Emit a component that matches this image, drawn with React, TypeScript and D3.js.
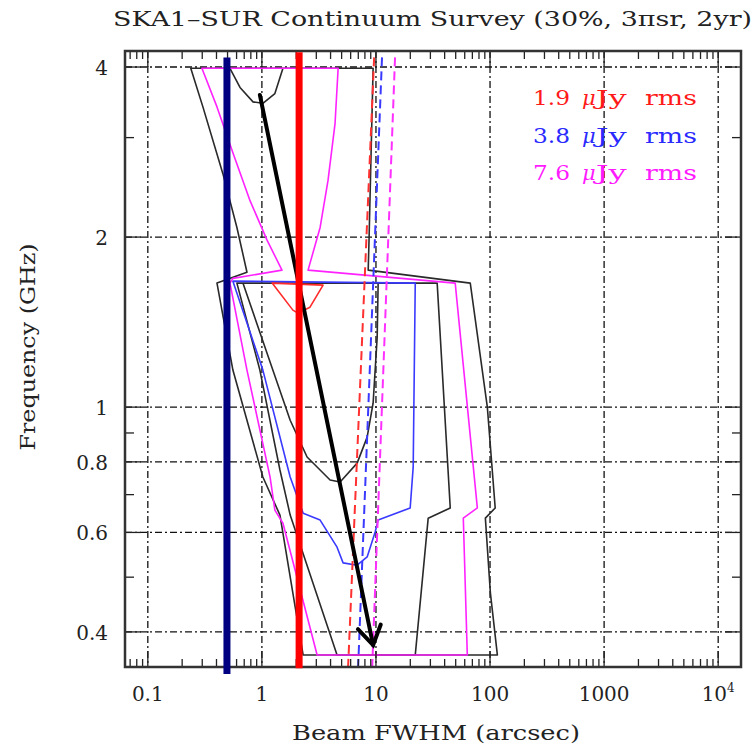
import React from "react";
import * as d3 from "d3";

const W = 756;
const H = 748;
const plot = { left: 125, right: 741, top: 51, bottom: 667 };

const beamDomain: [number, number] = [0.0631, 15849];
const freqDomain: [number, number] = [0.3467, 4.27];

const xTicks = [0.1, 1, 10, 100, 1000, 10000];
const xTickLabels = ["0.1", "1", "10", "100", "1000", "10"];
const yTicks = [0.4, 0.6, 0.8, 1, 2, 4];
const yTickLabels = ["0.4", "0.6", "0.8", "1", "2", "4"];
const yMinorTicks = [0.5, 0.7, 0.9, 3];

// Survey contours as [beam FWHM (arcsec), frequency (GHz)]
const blackOuter: [number, number][] = [
  [0.238, 3.98], [9.44, 3.98], [8.71, 2.0], [8.55, 1.748], [67.1, 1.658], [94.7, 1.0],
  [111, 0.663], [91.0, 0.636], [100.7, 0.469], [116, 0.364], [2.3, 0.364], [1.44, 0.644],
  [1.02, 0.752], [0.557, 1.163], [0.404, 1.658], [0.74, 1.733], [0.604, 2.08],
  [0.455, 2.59], [0.304, 3.4],
];
const magentaOuter: [number, number][] = [
  [0.298, 3.98], [4.66, 3.98], [4.38, 3.18], [3.8, 2.52], [3.24, 2.08], [2.54, 1.748],
  [49.5, 1.658], [77.4, 0.663], [58.3, 0.636], [63.2, 0.364], [3.05, 0.364], [1.53, 0.623],
  [1.3, 0.657], [1.18, 0.752], [0.74, 1.163], [0.525, 1.658], [0.557, 1.69], [1.5, 1.748],
  [1.11, 1.975], [0.787, 2.32], [0.557, 2.82], [0.404, 3.4],
];
const blackMid: [number, number][] = [
  [0.604, 1.658], [34.4, 1.658], [44.8, 0.663], [28.7, 0.636], [22.1, 0.364], [4.56, 0.364],
  [1.77, 0.644], [1.44, 0.774], [0.96, 1.163],
];
const blackInner: [number, number][] = [
  [0.682, 1.658], [1.11, 1.246], [1.77, 0.948], [2.49, 0.816], [3.96, 0.743], [4.85, 0.737],
  [6.84, 0.796], [8.37, 0.885], [9.44, 1.016], [10.25, 1.33], [10.45, 1.658],
];
const blackCap: [number, number][] = [
  [0.525, 3.98], [0.643, 3.68], [0.836, 3.47], [1.02, 3.45], [1.3, 3.59], [1.53, 3.98],
];
const blueContour: [number, number][] = [
  [0.557, 1.671], [22.1, 1.658], [21.2, 0.783], [19.95, 0.663], [10.45, 0.631], [9.84, 0.601],
  [8.37, 0.543], [6.84, 0.525], [5.15, 0.53], [4.56, 0.565], [3.24, 0.631], [2.3, 0.649],
  [1.77, 0.752], [1.02, 1.163],
];
const redContour: [number, number][] = [
  [1.23, 1.658], [1.87, 1.485], [2.07, 1.467], [2.64, 1.503], [3.44, 1.644],
];

// Confusion limits for each rms level
const confusionRed: [number, number][] = [[9.64, 4.16], [5.7, 0.347]];
const confusionBlue: [number, number][] = [[11.3, 4.16], [6.98, 0.347]];
const confusionMagenta: [number, number][] = [[14.7, 4.16], [9.27, 0.347]];

// Reference beams and resolution track
const navyBeam = 0.494;
const navyRange: [number, number] = [0.337, 4.16];
const redBeam = 2.12;
const redRange: [number, number] = [0.345, 4.25];
const arrowFrom: [number, number] = [0.96, 3.57];
const arrowTo: [number, number] = [9.44, 0.379];

const legendLevels = ["1.9", "3.8", "7.6"];
const legendColors = ["#ff1a1a", "#2a2aff", "#ff1aff"];

const serif = "'DejaVu Serif', 'Liberation Serif', serif";

export default function App() {
  const x = d3.scaleLog().domain(beamDomain).range([plot.left, plot.right]);
  const y = d3.scaleLog().domain(freqDomain).range([plot.bottom, plot.top]);

  const closed = d3
    .line<[number, number]>()
    .x((d) => x(d[0]))
    .y((d) => y(d[1]))
    .curve(d3.curveLinearClosed);
  const open = d3
    .line<[number, number]>()
    .x((d) => x(d[0]))
    .y((d) => y(d[1]));

  // minor x ticks: 2..9 times each decade within domain
  const xMinor: number[] = [];
  for (let e = -2; e <= 4; e++) {
    for (let m = 2; m <= 9; m++) {
      const v = m * Math.pow(10, e);
      if (v > beamDomain[0] && v < beamDomain[1]) xMinor.push(v);
    }
  }

  const grid = "7 3 2 3";
  const contourW = 1.6;

  // arrowhead
  const tx = x(arrowTo[0]);
  const ty = y(arrowTo[1]);
  const fx = x(arrowFrom[0]);
  const fy = y(arrowFrom[1]);
  const ang = Math.atan2(ty - fy, tx - fx);
  const headLen = 22;
  const headAng = (32 * Math.PI) / 180;
  const h1 = [tx - headLen * Math.cos(ang - headAng), ty - headLen * Math.sin(ang - headAng)];
  const h2 = [tx - headLen * Math.cos(ang + headAng), ty - headLen * Math.sin(ang + headAng)];

  return (
    <svg width={W} height={H} style={{ display: "block", position: "absolute", left: 0, top: 0 }}>
      <rect width={W} height={H} fill="#fff" />
      {/* title */}
      <text x={113} y={26} fontFamily={serif} fontSize={21} fill="#222" textLength={639} lengthAdjust="spacingAndGlyphs">
        SKA1–SUR Continuum Survey (30%, 3πsr, 2yr)
      </text>

      {/* grid */}
      <g stroke="#111" strokeWidth={1.3} strokeDasharray={grid} fill="none">
        {xTicks.map((t) => (
          <line key={"gx" + t} x1={x(t)} x2={x(t)} y1={plot.top} y2={plot.bottom} />
        ))}
        {yTicks.map((t) => (
          <line key={"gy" + t} x1={plot.left} x2={plot.right} y1={y(t)} y2={y(t)} />
        ))}
      </g>

      {/* contours */}
      <g fill="none" strokeWidth={contourW} strokeLinejoin="round">
        <path d={closed(blackOuter) || ""} stroke="#2a2a2a" />
        <path d={closed(blackMid) || ""} stroke="#2a2a2a" />
        <path d={open(blackInner) || ""} stroke="#2a2a2a" />
        <path d={open(blackCap) || ""} stroke="#2a2a2a" />
        <path d={closed(blueContour) || ""} stroke="#3a3aff" />
        <path d={closed(magentaOuter) || ""} stroke="#ff22ff" />
        <path d={closed(redContour) || ""} stroke="#ff2a2a" />
      </g>

      {/* confusion limits */}
      <g fill="none" strokeWidth={2} strokeDasharray="9 5">
        <path d={open(confusionRed) || ""} stroke="#ff3030" />
        <path d={open(confusionBlue) || ""} stroke="#3a3aff" />
        <path d={open(confusionMagenta) || ""} stroke="#ff30ff" />
      </g>

      {/* frame ticks */}
      <g stroke="#222" strokeWidth={1.3}>
        {xTicks.map((t) => (
          <g key={"xt" + t}>
            <line x1={x(t)} x2={x(t)} y1={plot.bottom} y2={plot.bottom - 16} />
            <line x1={x(t)} x2={x(t)} y1={plot.top} y2={plot.top + 16} />
          </g>
        ))}
        {xMinor.map((t) => (
          <g key={"xm" + t}>
            <line x1={x(t)} x2={x(t)} y1={plot.bottom} y2={plot.bottom - 8} />
            <line x1={x(t)} x2={x(t)} y1={plot.top} y2={plot.top + 8} />
          </g>
        ))}
        {yTicks.map((t) => (
          <g key={"yt" + t}>
            <line x1={plot.left} x2={plot.left + 16} y1={y(t)} y2={y(t)} />
            <line x1={plot.right} x2={plot.right - 16} y1={y(t)} y2={y(t)} />
          </g>
        ))}
        {yMinorTicks.map((t) => (
          <g key={"ym" + t}>
            <line x1={plot.left} x2={plot.left + 9} y1={y(t)} y2={y(t)} />
            <line x1={plot.right} x2={plot.right - 9} y1={y(t)} y2={y(t)} />
          </g>
        ))}
      </g>
      <rect
        x={plot.left}
        y={plot.top}
        width={plot.right - plot.left}
        height={plot.bottom - plot.top}
        fill="none"
        stroke="#333"
        strokeWidth={2.5}
      />

      {/* resolution track arrow */}
      <g stroke="#000" strokeWidth={4} strokeLinecap="round" fill="none">
        <line x1={fx} y1={fy} x2={tx} y2={ty} />
        <polyline points={`${h1[0]},${h1[1]} ${tx},${ty} ${h2[0]},${h2[1]}`} strokeLinejoin="miter" />
      </g>

      {/* reference beams */}
      <line x1={x(navyBeam)} x2={x(navyBeam)} y1={y(navyRange[0])} y2={y(navyRange[1])} stroke="#000080" strokeWidth={7} />
      <line x1={x(redBeam)} x2={x(redBeam)} y1={y(redRange[0])} y2={y(redRange[1])} stroke="#ff0000" strokeWidth={7} />

      {/* legend */}
      {legendLevels.map((lv, i) => {
        const by = 105 + i * 37.5;
        return (
          <text key={lv} y={by} fontFamily={serif} fontSize={21} fill={legendColors[i]}>
            <tspan x={533} textLength={37} lengthAdjust="spacingAndGlyphs">{lv}</tspan>
            <tspan x={582} fontStyle="italic">μ</tspan>
            <tspan textLength={31} lengthAdjust="spacingAndGlyphs">Jy</tspan>
            <tspan x={645} textLength={52} lengthAdjust="spacingAndGlyphs">rms</tspan>
          </text>
        );
      })}

      {/* x tick labels */}
      {xTicks.map((t, i) => (
        <text key={"xl" + t} x={x(t)} y={701} fontFamily={serif} fontSize={20} fill="#222" textAnchor="middle">
          {xTickLabels[i]}
          {t === 10000 ? <tspan dy={-9} fontSize={12}>4</tspan> : null}
        </text>
      ))}
      <text x={436} y={740} fontFamily={serif} fontSize={20} fill="#222" textAnchor="middle" textLength={288} lengthAdjust="spacingAndGlyphs">
        Beam FWHM (arcsec)
      </text>

      {/* y tick labels */}
      {yTicks.map((t, i) => (
        <text key={"yl" + t} x={108} y={y(t) + 8} fontFamily={serif} fontSize={20} fill="#222" textAnchor="end">
          {yTickLabels[i]}
        </text>
      ))}
      <text
        transform="translate(35,347) rotate(-90)"
        fontFamily={serif}
        fontSize={20}
        fill="#222"
        textAnchor="middle"
        textLength={207}
        lengthAdjust="spacingAndGlyphs"
      >
        Frequency (GHz)
      </text>
    </svg>
  );
}
